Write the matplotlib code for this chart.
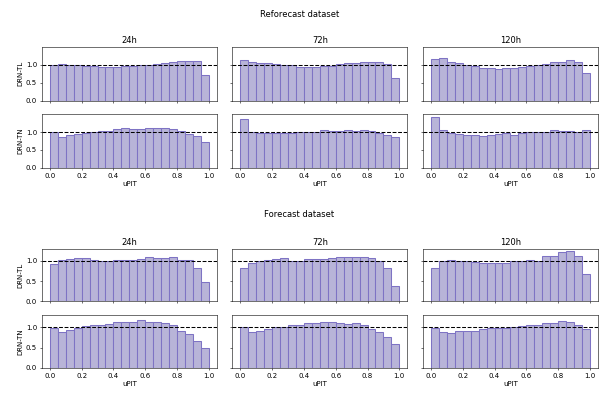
import numpy as np
import matplotlib.pyplot as plt

# 20 equal uPIT bins on [0, 1]
bin_edges = np.linspace(0, 1, 21)

lead_times = ["24h", "72h", "120h"]
models = ["DRN-TL", "DRN-TN"]

# --- Reforecast dataset: normalised histogram heights per bin
ref_tl_24 = [1.00, 1.02, 0.99, 0.98, 0.97, 0.96, 0.94, 0.95, 0.95, 0.97,
             0.97, 0.98, 1.00, 1.01, 1.05, 1.09, 1.11, 1.11, 1.10, 0.71]
ref_tl_72 = [1.14, 1.08, 1.06, 1.05, 1.01, 0.99, 0.98, 0.94, 0.95, 0.95,
             0.96, 0.97, 1.01, 1.05, 1.05, 1.08, 1.07, 1.08, 1.02, 0.64]
ref_tl_120 = [1.16, 1.19, 1.09, 1.05, 1.00, 0.96, 0.92, 0.92, 0.89, 0.91,
              0.91, 0.95, 0.97, 0.98, 1.03, 1.08, 1.08, 1.13, 1.08, 0.77]
ref_tn_24 = [1.00, 0.87, 0.91, 0.94, 0.98, 0.99, 1.03, 1.03, 1.07, 1.10,
             1.09, 1.09, 1.12, 1.11, 1.11, 1.07, 1.02, 0.94, 0.89, 0.71]
ref_tn_72 = [1.37, 1.00, 0.97, 0.97, 0.96, 0.96, 0.97, 0.99, 1.01, 1.00,
             1.05, 1.03, 1.03, 1.05, 1.03, 1.05, 1.03, 0.96, 0.92, 0.85]
ref_tn_120 = [1.42, 1.06, 0.97, 0.94, 0.92, 0.92, 0.90, 0.93, 0.95, 0.96,
              0.93, 0.98, 0.99, 0.99, 1.01, 1.05, 1.03, 1.03, 1.00, 1.06]

# --- Forecast dataset
fc_tl_24 = [0.93, 1.03, 1.06, 1.07, 1.07, 1.02, 1.01, 1.01, 1.03, 1.02,
            1.03, 1.05, 1.09, 1.07, 1.07, 1.09, 1.03, 1.02, 0.83, 0.49]
fc_tl_72 = [0.82, 0.95, 1.01, 1.02, 1.04, 1.07, 1.01, 1.01, 1.06, 1.05,
            1.04, 1.08, 1.09, 1.09, 1.11, 1.10, 1.08, 1.00, 0.82, 0.39]
fc_tl_120 = [0.82, 1.01, 1.02, 0.99, 0.99, 0.98, 0.96, 0.96, 0.96, 0.96,
             0.99, 1.01, 1.02, 1.01, 1.13, 1.12, 1.22, 1.24, 1.12, 0.67]
fc_tn_24 = [0.98, 0.89, 0.94, 0.99, 1.04, 1.07, 1.07, 1.08, 1.13, 1.13,
            1.13, 1.18, 1.14, 1.13, 1.10, 1.06, 0.92, 0.83, 0.66, 0.49]
fc_tn_72 = [1.02, 0.89, 0.92, 0.96, 1.00, 1.00, 1.06, 1.07, 1.11, 1.10,
            1.14, 1.13, 1.12, 1.09, 1.11, 1.06, 0.97, 0.89, 0.76, 0.58]
fc_tn_120 = [0.99, 0.88, 0.87, 0.91, 0.92, 0.92, 0.97, 0.98, 0.98, 0.98,
             1.01, 1.03, 1.07, 1.05, 1.10, 1.12, 1.17, 1.14, 1.07, 0.95]

datasets = [
    ("Reforecast dataset",
     [[ref_tl_24, ref_tl_72, ref_tl_120], [ref_tn_24, ref_tn_72, ref_tn_120]]),
    ("Forecast dataset",
     [[fc_tl_24, fc_tl_72, fc_tl_120], [fc_tn_24, fc_tn_72, fc_tn_120]]),
]

FACE = "#b8b4d8"
EDGE = "#7e73c4"

fig = plt.figure(figsize=(11.98, 7.86), dpi=50)

# (top, bottom, title y) for each dataset block
blocks = [(0.880, 0.573, 0.964), (0.367, 0.064, 0.455)]

for (name, hists), (top, bottom, title_y) in zip(datasets, blocks):
    gs = fig.add_gridspec(2, 3, left=0.070, right=0.998, top=top,
                          bottom=bottom, wspace=0.09, hspace=0.26)
    axes = gs.subplots(sharex=True, sharey=True)
    fig.text(0.5, title_y, name, ha="center", va="center", fontsize=12)

    for i, model in enumerate(models):
        for j, lead in enumerate(lead_times):
            ax = axes[i, j]
            heights = np.array(hists[i][j])
            ax.bar(bin_edges[:-1], heights, width=np.diff(bin_edges),
                   align="edge", facecolor=FACE, edgecolor=EDGE,
                   linewidth=1.5)
            ax.axhline(1.0, color="black", linestyle="--", linewidth=1.5)
            if i == 0:
                ax.set_title(lead, fontsize=12)
            if j == 0:
                ax.set_ylabel(model, fontsize=10)
            if i == 1:
                ax.set_xlabel("uPIT", fontsize=10)
    axes[0, 0].set_yticks([0.0, 0.5, 1.0])
    axes[0, 0].set_xticks([0.0, 0.2, 0.4, 0.6, 0.8, 1.0])

fig.savefig("out.png", dpi=50)
